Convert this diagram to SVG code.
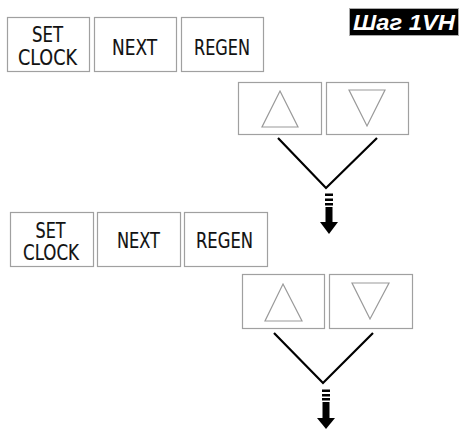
<svg xmlns="http://www.w3.org/2000/svg" width="459" height="430" viewBox="0 0 459 430">
<style>
.btn{fill:#fff;stroke:#a0a0a0;stroke-width:1.2}
.lbl{font-family:"DejaVu Sans Condensed","DejaVu Sans",sans-serif;font-stretch:condensed;font-size:22px;fill:#111;stroke:#111;stroke-width:0.15;text-anchor:middle}
.lb2{font-size:21px}
.tri{fill:none;stroke:#9a9a9a;stroke-width:1.2}
.v{fill:none;stroke:#000;stroke-width:2.2}
.arr{fill:#000}
</style>
<rect width="459" height="430" fill="#fff"/>
<g id="title">
<rect x="349.5" y="8.5" width="109" height="27" fill="#000" stroke="#aaa" stroke-width="1"/>
<text x="353" y="29.5" font-family="'Liberation Sans',Arial,sans-serif" font-weight="bold" font-style="italic" font-size="22" fill="#fff" textLength="102" lengthAdjust="spacingAndGlyphs">Шаг 1VH</text>
</g>
<g id="set-clock-1">
<rect class="btn" x="7.5" y="17.5" width="82" height="54"/>
<text class="lbl" x="47.5" y="42" textLength="31" lengthAdjust="spacingAndGlyphs">SET</text>
<text class="lbl" x="47.5" y="65" textLength="59" lengthAdjust="spacingAndGlyphs">CLOCK</text>
</g>
<g id="next-1">
<rect class="btn" x="94.5" y="17.5" width="82" height="54"/>
<text class="lbl" x="134.5" y="55" textLength="45" lengthAdjust="spacingAndGlyphs">NEXT</text>
</g>
<g id="regen-1">
<rect class="btn" x="181.5" y="17.5" width="82" height="54"/>
<text class="lbl" x="222" y="55" textLength="56" lengthAdjust="spacingAndGlyphs">REGEN</text>
</g>
<g id="up-1">
<rect class="btn" x="238.5" y="82.5" width="83" height="52"/>
<polygon class="tri" points="280,91 298,127 262,127"/>
</g>
<g id="down-1">
<rect class="btn" x="326.5" y="82.5" width="82" height="52"/>
<polygon class="tri" points="349,90 385,90 367,126"/>
</g>
<g id="set-clock-2">
<rect class="btn" x="10.5" y="212.5" width="83" height="54"/>
<text class="lbl lb2" x="50.5" y="237.5" textLength="30" lengthAdjust="spacingAndGlyphs">SET</text>
<text class="lbl lb2" x="51" y="260" textLength="56" lengthAdjust="spacingAndGlyphs">CLOCK</text>
</g>
<g id="next-2">
<rect class="btn" x="97.5" y="212.5" width="83" height="54"/>
<text class="lbl lb2" x="138.5" y="248" textLength="43" lengthAdjust="spacingAndGlyphs">NEXT</text>
</g>
<g id="regen-2">
<rect class="btn" x="184.5" y="212.5" width="83" height="54"/>
<text class="lbl lb2" x="224.5" y="248" textLength="57" lengthAdjust="spacingAndGlyphs">REGEN</text>
</g>
<g id="up-2">
<rect class="btn" x="242.5" y="274.5" width="82" height="54"/>
<polygon class="tri" points="283,284 302,321 265,321"/>
</g>
<g id="down-2">
<rect class="btn" x="329.5" y="274.5" width="83" height="54"/>
<polygon class="tri" points="352,283 389,283 370,319"/>
</g>
<g id="connectors">
<polyline class="v" points="278,138 326,188 377,138"/>
<rect class="arr" x="325" y="193.5" width="8" height="2.5"/>
<rect class="arr" x="325" y="198.5" width="8" height="2.5"/>
<rect class="arr" x="325" y="203" width="8" height="2.5"/>
<rect class="arr" x="325.5" y="207" width="7" height="16"/>
<polygon class="arr" points="320,222 338,222 329,234"/>
<polyline class="v" points="274,333 323,383 373,333"/>
<rect class="arr" x="322" y="389.5" width="8" height="2.5"/>
<rect class="arr" x="322" y="394" width="8" height="2.5"/>
<rect class="arr" x="322" y="398" width="8" height="2.5"/>
<rect class="arr" x="322.5" y="402" width="7" height="16.5"/>
<polygon class="arr" points="317,418 335,418 326,429"/>
</g>
</svg>
